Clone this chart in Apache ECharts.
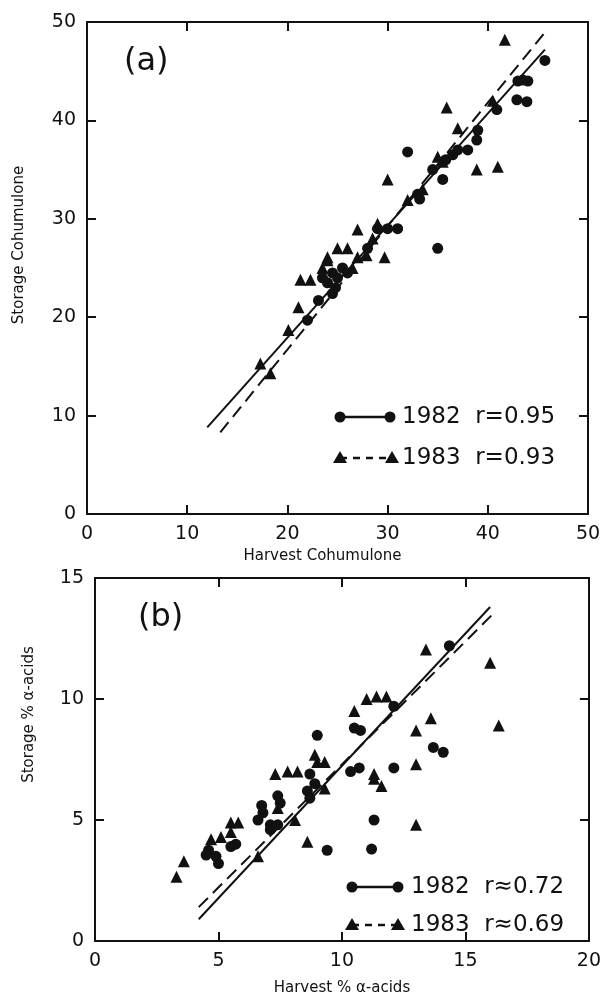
<!DOCTYPE html>
<html>
<head>
<meta charset="utf-8">
<script src="https://cdn.jsdelivr.net/npm/echarts@6/dist/echarts.min.js"></script>
<style>
html,body{margin:0;padding:0;background:#fff;}
#c{width:604px;height:997px;}
</style>
</head>
<body>
<div id="c"></div>
<script>
// ---- Panel (a): cohumulone ----
var cohum1982 = [[22.0,19.7],[23.1,21.7],[24.5,22.4],[24.0,23.5],[24.5,24.5],[25.0,24.0],[25.5,25.0],[26.0,24.5],[23.5,24.0],[24.8,23.0],
  [28.0,27.0],[29.0,29.0],[30.0,29.0],[31.0,29.0],[32.0,36.8],[35.0,27.0],[33.0,32.5],[33.2,32.0],[34.5,35.0],[35.5,34.0],
  [35.8,36.0],[36.5,36.5],[37.0,37.0],[38.0,37.0],[38.9,38.0],[39.0,39.0],[40.9,41.1],[42.9,42.1],[43.9,41.9],[43.5,44.1],
  [44.0,44.0],[45.7,46.1],[43.0,44.0]];
var cohum1983 = [[17.3,15.3],[18.3,14.3],[20.1,18.7],[21.1,21.0],[21.3,23.8],[22.3,23.8],[24.0,26.1],[24.0,25.8],[25.0,27.0],[26.0,27.0],
  [27.0,26.1],[27.9,26.3],[27.0,28.9],[29.7,26.1],[28.5,28.0],[30.0,34.0],[32.0,31.9],[35.0,36.3],[35.5,35.8],[35.9,41.3],
  [37.0,39.2],[38.9,35.0],[41.0,35.3],[40.5,42.0],[41.7,48.2],[23.5,25.0],[26.5,25.0],[29.0,29.5],[33.5,33.0]];
var cohumFit1982 = [[12.0,8.8],[45.7,47.2]];
var cohumFit1983 = [[13.3,8.3],[45.9,49.2]];
var cohumTicks = [0,10,20,30,40,50];

// ---- Panel (b): alpha acids ----
var alpha1982 = [[14.35,12.2],[12.1,9.7],[10.5,8.8],[10.75,8.7],[9.0,8.5],[13.7,8.0],[14.1,7.8],[12.1,7.15],[10.7,7.15],[10.35,7.0],
  [8.7,6.9],[8.9,6.5],[8.6,6.2],[8.7,5.9],[11.3,5.0],[11.2,3.8],[9.4,3.75],[7.4,6.0],[7.5,5.7],[6.75,5.6],
  [6.8,5.3],[6.6,5.0],[7.1,4.8],[7.1,4.6],[7.4,4.8],[4.6,3.75],[4.9,3.5],[5.0,3.2],[5.7,4.0],[5.5,3.9],[4.5,3.55]];
var alpha1983 = [[13.4,12.05],[16.0,11.5],[16.35,8.9],[11.0,10.0],[11.4,10.1],[11.8,10.1],[10.5,9.5],[13.6,9.2],[13.0,8.7],[13.0,7.3],
  [11.3,6.9],[8.9,7.7],[9.3,7.4],[9.0,7.4],[7.3,6.9],[7.8,7.0],[8.2,7.0],[9.3,6.3],[11.3,6.7],[11.6,6.4],
  [13.0,4.8],[8.6,4.1],[8.1,5.0],[6.6,3.5],[7.4,5.5],[5.5,4.9],[5.8,4.9],[4.7,4.2],[5.1,4.3],[5.5,4.5],[3.6,3.3],[3.3,2.65]];
var alphaFit1982 = [[4.2,0.9],[16.0,13.8]];
var alphaFit1983 = [[4.2,1.4],[16.2,13.6]];
var alphaXTicks = [0,5,10,15,20];
var alphaYTicks = [0,5,10,15];

var FONT = 'DejaVu Sans';
var BLACK = '#111';

function mainAxis(gridIndex, ticks, pos, extra) {
  var o = {
    type: 'value', gridIndex: gridIndex, position: pos,
    min: ticks[0], max: ticks[ticks.length-1], interval: ticks[1]-ticks[0],
    axisLine: {show: true, onZero: false, lineStyle: {color: BLACK, width: 2}},
    axisTick: {show: true, inside: true, length: 9, lineStyle: {color: BLACK, width: 2}},
    axisLabel: {show: true, color: BLACK, fontFamily: FONT, fontSize: 19, margin: 11},
    splitLine: {show: false},
    nameTextStyle: {color: BLACK, fontFamily: FONT, fontSize: 15}
  };
  for (var k in extra) o[k] = extra[k];
  return o;
}
function frameAxis(gridIndex, ticks, pos) {
  return {
    type: 'value', gridIndex: gridIndex, position: pos,
    min: ticks[0], max: ticks[ticks.length-1], interval: ticks[1]-ticks[0],
    axisLine: {show: true, onZero: false, lineStyle: {color: BLACK, width: 2}},
    axisTick: {show: true, inside: true, length: 9, lineStyle: {color: BLACK, width: 2}},
    axisLabel: {show: false}, splitLine: {show: false}
  };
}

var chart = echarts.init(document.getElementById('c'), null, {renderer: 'canvas'});

function scatter(data, xi, yi, symbol, size) {
  return {type: 'scatter', xAxisIndex: xi, yAxisIndex: yi, data: data, symbol: symbol, symbolSize: size,
    itemStyle: {color: BLACK, opacity: 1}, silent: true, animation: false, z: 3};
}
function fit(data, xi, yi, dashed) {
  return {type: 'line', xAxisIndex: xi, yAxisIndex: yi, data: data, symbol: 'none',
    lineStyle: {color: BLACK, width: 2, type: dashed ? [13, 7] : 'solid'}, silent: true, animation: false, z: 2};
}

// legend graphics (layout only)
function legendRow(x1, x2, y, symbol, dashed, label, textX) {
  var els = [];
  els.push({type: 'line', shape: {x1: x1, y1: y, x2: x2, y2: y},
    style: {stroke: BLACK, lineWidth: 2.5, lineDash: dashed ? [7, 6] : null}});
  [x1, x2].forEach(function (cx) {
    if (symbol === 'circle') {
      els.push({type: 'circle', shape: {cx: cx, cy: y, r: 5.5}, style: {fill: BLACK}});
    } else {
      els.push({type: 'polygon', shape: {points: [[cx, y-7], [cx+7, y+5], [cx-7, y+5]]}, style: {fill: BLACK}});
    }
  });
  els.push({type: 'text', x: textX, y: y, style: {text: label, fill: BLACK, font: '23px "' + FONT + '"', verticalAlign: 'middle', align: 'left'}});
  return els;
}

var graphics = [].concat(
  [{type: 'text', x: 124, y: 62, style: {text: '(a)', fill: BLACK, font: '32px "' + FONT + '"', verticalAlign: 'middle'}}],
  [{type: 'text', x: 138, y: 618, style: {text: '(b)', fill: BLACK, font: '32px "' + FONT + '"', verticalAlign: 'middle'}}],
  legendRow(340, 390, 417, 'circle', false, '1982  r=0.95', 402),
  legendRow(340, 392, 458, 'triangle', true, '1983  r=0.93', 402),
  legendRow(352, 398, 887, 'circle', false, '1982  r\u22480.72', 411),
  legendRow(352, 398, 925, 'triangle', true, '1983  r\u22480.69', 411)
);

var option = {
  backgroundColor: '#fff',
  animation: false,
  grid: [
    {left: 87, top: 22, width: 501, height: 492, containLabel: false},
    {left: 95, top: 578, width: 499, height: 367, containLabel: false}
  ],
  xAxis: [
    mainAxis(0, cohumTicks, 'bottom', {name: 'Harvest Cohumulone', nameLocation: 'middle', nameGap: 35,
      nameTextStyle: {color: BLACK, fontFamily: FONT, fontSize: 15, padding: [0, 30, 0, 0]}}),
    frameAxis(0, cohumTicks, 'top'),
    mainAxis(1, alphaXTicks, 'bottom', {name: 'Harvest % \u03b1-acids', nameLocation: 'middle', nameGap: 40,
      nameTextStyle: {color: BLACK, fontFamily: FONT, fontSize: 15}}),
    frameAxis(1, alphaXTicks, 'top')
  ],
  yAxis: [
    mainAxis(0, cohumTicks, 'left', {name: 'Storage Cohumulone', nameLocation: 'middle', nameGap: 60,
      nameTextStyle: {color: BLACK, fontFamily: FONT, fontSize: 15, padding: [0, 0, 0, 46]}}),
    frameAxis(0, cohumTicks, 'right'),
    mainAxis(1, alphaYTicks, 'left', {name: 'Storage % \u03b1-acids', nameLocation: 'middle', nameGap: 58,
      nameTextStyle: {color: BLACK, fontFamily: FONT, fontSize: 15, padding: [0, 0, 0, 90]}}),
    frameAxis(1, alphaYTicks, 'right')
  ],
  series: [
    fit(cohumFit1982, 0, 0, false),
    fit(cohumFit1983, 0, 0, true),
    scatter(cohum1982, 0, 0, 'circle', 11),
    scatter(cohum1983, 0, 0, 'triangle', 12),
    fit(alphaFit1982, 2, 2, false),
    fit(alphaFit1983, 2, 2, true),
    scatter(alpha1982, 2, 2, 'circle', 11),
    scatter(alpha1983, 2, 2, 'triangle', 12)
  ],
  graphic: graphics
};
chart.setOption(option);
</script>
</body>
</html>
